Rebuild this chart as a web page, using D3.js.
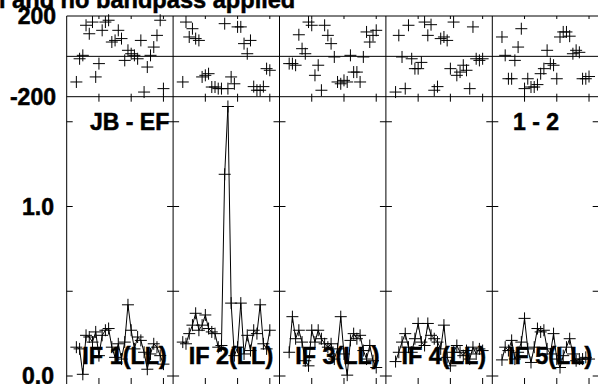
<!DOCTYPE html>
<html><head><meta charset="utf-8">
<script src="https://cdn.jsdelivr.net/npm/d3@7"></script>
<style>html,body{margin:0;padding:0;background:#fff;overflow:hidden}</style>
</head><body><svg id="c" width="598" height="384"></svg>
<script>
const titleText = "l and no bandpass applied";
const baselineLabel = "JB - EF";
const sourceLabel = "1 - 2";
const ifLabels = ["IF 1(LL)", "IF 2(LL)", "IF 3(LL)", "IF 4(LL)", "IF 5(LL)"];
const channels = [3,4,5,6,7,8,9,10,11,12,13,14,15,16,17,18,19,20,21,22,23,24,25,26,27,28,29,30];
const chanTicks = [10, 20, 30];
const ampTicks = [0, 0.5, 1.0, 1.5];
const ampTickLabels = ["0.0", "1.0"];
const phaseTickLabels = ["200", "-200"];

const amp1 = [0.17,0.16,0.01,0.24,0.23,0.20,0.26,0.12,0.24,0.27,0.28,0.17,0.11,0.19,0.10,0.20,0.42,0.27,0.16,0.23,0.21,0.14,0.04,0.13,0.19,0.17,0.12,0.07];
const amp2 = [0.20,0.19,0.25,0.30,0.37,0.27,0.30,0.36,0.28,0.26,0.25,0.17,0.18,1.19,1.59,0.43,0.12,0.17,0.43,0.13,0.24,0.15,0.27,0.25,0.42,0.19,0.16,0.27];
const amp3 = [0.14,0.35,0.22,0.27,0.20,0.09,0.06,0.27,0.20,0.27,0.22,0.19,0.17,0.19,0.10,0.16,0.35,0.13,0.005,0.21,0.25,0.22,0.24,0.15,0.10,0.18,0.09,0.05];
const amp4 = [0.085,0.14,0.20,0.25,0.17,0.14,0.22,0.31,0.20,0.18,0.31,0.24,0.22,0.20,0.16,0.30,0.11,0.06,0.14,0.18,0.14,0.12,0.15,0.10,0.17,0.13,0.16,0.15];
const amp5 = [0.095,0.17,0.15,0.21,0.10,0.14,0.20,0.34,0.16,0.08,0.17,0.28,0.26,0.27,0.16,0.13,0.25,0.10,0.05,0.12,0.17,0.22,0.13,0.09,0.10,0.10,0.11,0.10];

const phase1 = [-127,-12,5,154,112,170,-102,-36,129,170,179,71,79,129,88,-20,30,13,5,-12,79,-177,-53,5,46,104,179,-160];
const phase2 = [-127,170,96,137,88,79,-102,-94,-86,-152,-152,-160,-160,162,-160,-102,-136,146,146,63,13,79,-150,-168,-168,-150,-61,-69];
const phase3 = [-36,-36,-44,107,38,13,170,154,-94,-44,-168,154,104,63,-3,-127,-136,-119,-127,5,-78,-78,-127,-3,121,71,104,129];
const phase4 = [-177,104,-3,-160,154,-12,-61,-61,-30,170,104,157,-168,-150,88,96,79,-61,170,-94,-78,-44,-69,-160,146,-12,-20,-12];
const phase5 = [96,5,-111,-111,-20,46,137,-160,-111,-152,-152,-140,-86,-61,30,-36,-44,-111,96,121,121,100,13,30,20,-111,-111,-100];

const ampSeries = [amp1, amp2, amp3, amp4, amp5];
const phaseSeries = [phase1, phase2, phase3, phase4, phase5];

const svg = d3.select("#c");
const FONT = "'Liberation Sans', Arial, Helvetica, sans-serif";
const left = 66.7, panelW = 106.4;
const right = left + panelW * ifLabels.length;
const panelX = d3.scaleBand().domain(ifLabels).range([left, right]).padding(0);
const yPhase = d3.scaleLinear().domain([-200, 200]).range([96.7, 16]);
const yAmp = d3.scaleLinear().domain([0, 1.5]).range([376, 121.75]);
const bottomY = 390;
const plus = s => `M${-s},0H${s}M0,${-s}V${s}`;

const g = svg.append("g").attr("stroke", "#000").attr("fill", "none").attr("stroke-width", 1);

// horizontal frame lines
[yPhase(200), yPhase(0), yPhase(-200)].forEach(y => {
  g.append("line").attr("x1", left).attr("x2", right).attr("y1", y).attr("y2", y);
});
// vertical frame lines
ifLabels.forEach(lab => {
  const x0 = panelX(lab);
  g.append("line").attr("x1", x0).attr("x2", x0).attr("y1", yPhase(200)).attr("y2", bottomY);
});
g.append("line").attr("x1", right).attr("x2", right).attr("y1", yPhase(200)).attr("y2", bottomY);

// ticks
ifLabels.forEach(lab => {
  const x0 = panelX(lab), x1 = x0 + panelX.bandwidth();
  const xs = d3.scaleLinear().domain([0, 33]).range([x0, x1]);
  ampTicks.forEach(t => {
    const y = yAmp(t);
    g.append("line").attr("x1", x0).attr("x2", x0 + 6).attr("y1", y).attr("y2", y);
    g.append("line").attr("x1", x1 - 6).attr("x2", x1).attr("y1", y).attr("y2", y);
  });
  chanTicks.forEach(c => {
    const x = xs(c);
    g.append("line").attr("x1", x).attr("x2", x).attr("y1", yPhase(200)).attr("y2", yPhase(200) + 3);
    g.append("line").attr("x1", x).attr("x2", x).attr("y1", yPhase(-200) - 3).attr("y2", yPhase(-200) + 5);
    g.append("line").attr("x1", x).attr("x2", x).attr("y1", 378).attr("y2", bottomY);
  });
});

// texts
const txt = (s, x, y, anchor, size) => svg.append("text").text(s).attr("x", x).attr("y", y)
  .attr("text-anchor", anchor).attr("font-family", FONT).attr("font-weight", "bold")
  .attr("font-size", size).attr("fill", "#000").attr("stroke", "#000").attr("stroke-width", 0.5);

txt(titleText, -1, 7.5, "start", 23.6);
txt(phaseTickLabels[0], 56, yPhase(200) + 8.3, "end", 23);
txt(phaseTickLabels[1], 56, yPhase(-200) + 8.3, "end", 23);
txt(ampTickLabels[1], 54, yAmp(1.0) + 8.3, "end", 23);
txt(ampTickLabels[0], 54, yAmp(0) + 8.3, "end", 23);
txt(baselineLabel, 90, 130, "start", 23);
txt(sourceLabel, 559, 130, "end", 23);
ifLabels.forEach(lab => {
  txt(lab, panelX(lab) + panelX.bandwidth() - 6.3, 364, "end", 23.4);
});

// data
ifLabels.forEach((lab, i) => {
  const x0 = panelX(lab);
  const xs = d3.scaleLinear().domain([0, 33]).range([x0, x0 + panelX.bandwidth()]);
  const pg = svg.append("g").attr("stroke", "#000").attr("fill", "none").attr("stroke-width", 1);
  // phase markers
  pg.selectAll("path.ph").data(channels.map((c, k) => [c, phaseSeries[i][k]])).join("path")
    .attr("class", "ph").attr("d", plus(6))
    .attr("transform", d => `translate(${xs(d[0])},${yPhase(d[1])})`);
  // amplitude line + markers
  const pts = channels.map((c, k) => [c, ampSeries[i][k]]);
  pg.append("path").attr("d", d3.line().x(d => xs(d[0])).y(d => yAmp(d[1]))(pts));
  pg.selectAll("path.am").data(pts).join("path")
    .attr("class", "am").attr("d", plus(6))
    .attr("transform", d => `translate(${xs(d[0])},${yAmp(d[1])})`);
});
</script>
</body></html>
